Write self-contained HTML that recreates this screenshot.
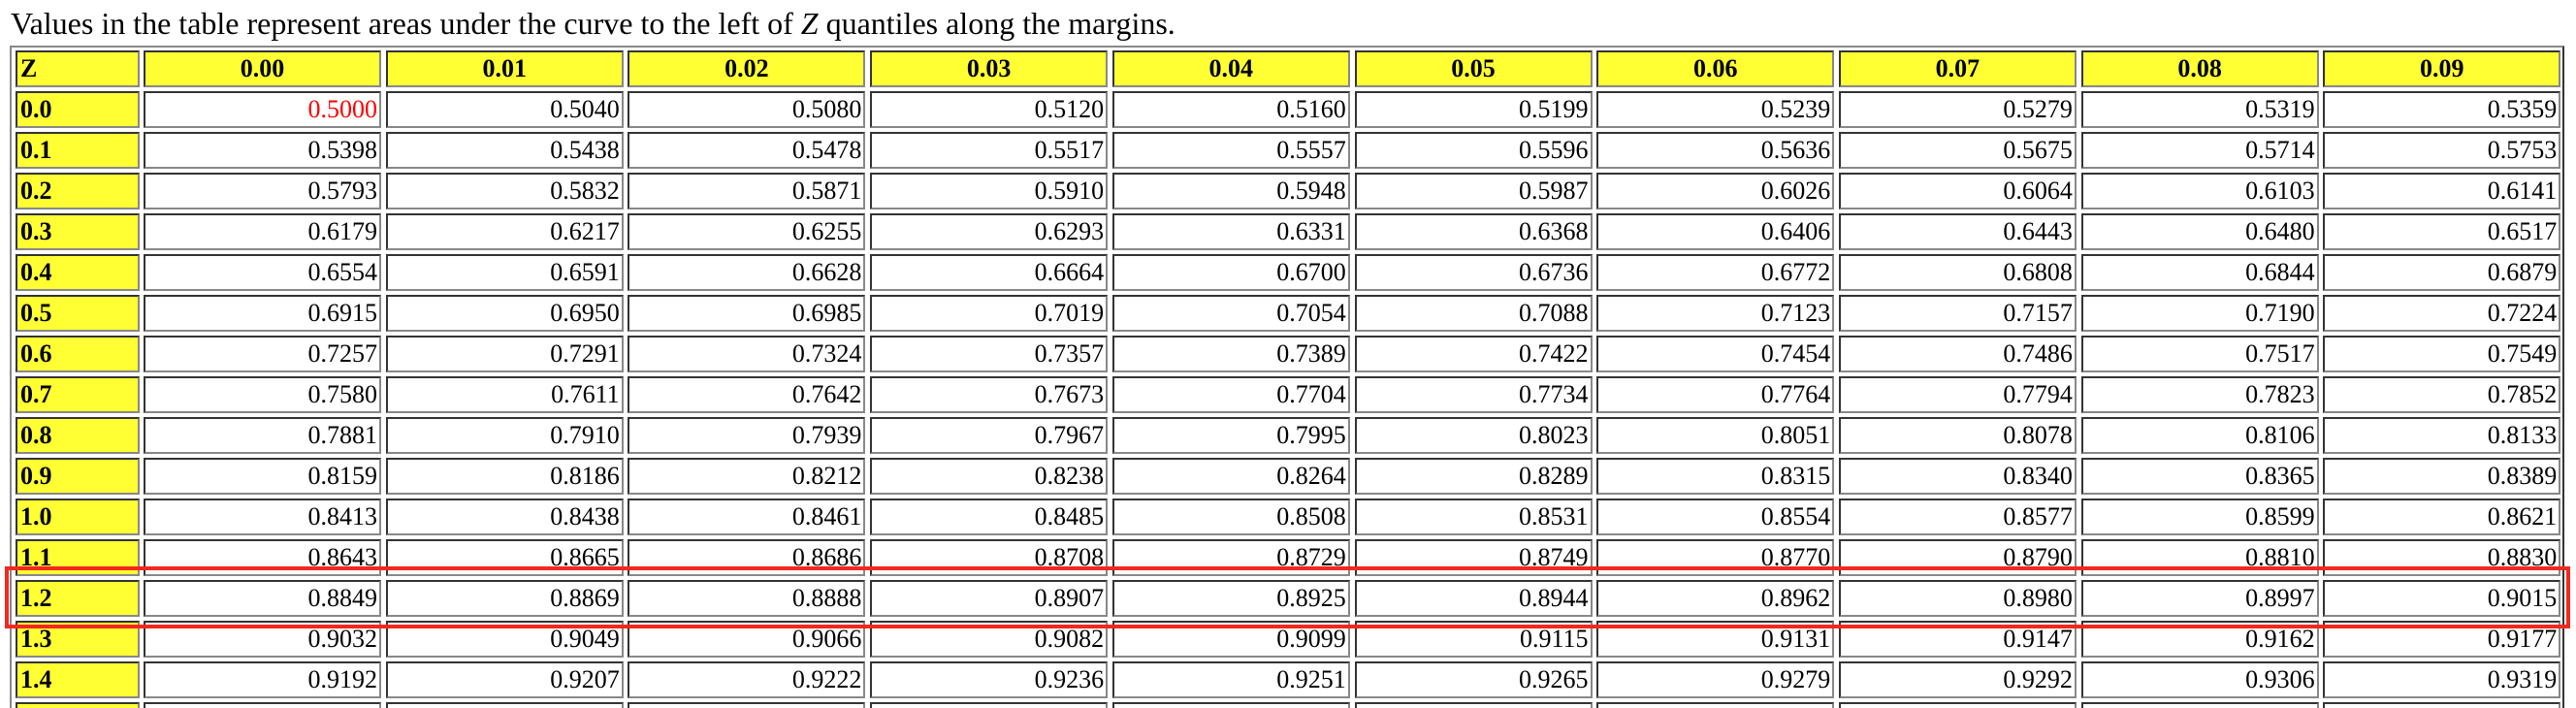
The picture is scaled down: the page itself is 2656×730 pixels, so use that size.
<!DOCTYPE html>
<html><head><meta charset="utf-8">
<style>
html,body{margin:0;padding:0;background:#fff;width:2656px;height:730px;overflow:hidden;position:relative;font-family:"Liberation Serif",serif;}
#title{position:absolute;left:11px;top:8px;font-size:32px;line-height:32px;color:#000;white-space:nowrap;}
#tbl{position:absolute;left:10px;top:47px;width:2634px;height:700px;border-left:2px solid #888;border-top:2px solid #888;border-right:2px solid #333;box-sizing:border-box;}
.c{position:absolute;box-sizing:border-box;height:38px;border:2px solid;border-color:#333 #888 #888 #333;font-size:26px;line-height:34px;white-space:nowrap;overflow:hidden;}
.y{background:#ffff33;font-weight:bold;}
.h{text-align:center;}
.z{text-align:left;padding-left:3px;}
.d{background:#fff;text-align:right;padding-right:2px;}
#box{position:absolute;left:5px;top:584px;width:2645px;height:64px;box-sizing:border-box;border:4px solid #f3281e;}
</style></head>
<body>
<div id="title">Values in the table represent areas under the curve to the left of <i>Z</i> quantiles along the margins.</div>
<div id="tbl"></div>
<div id="box"></div>
<script>
const colHeaders=["0.00","0.01","0.02","0.03","0.04","0.05","0.06","0.07","0.08","0.09"];
const rowHeaders=["0.0","0.1","0.2","0.3","0.4","0.5","0.6","0.7","0.8","0.9","1.0","1.1","1.2","1.3","1.4","1.5"];
const values=[
["0.5000","0.5040","0.5080","0.5120","0.5160","0.5199","0.5239","0.5279","0.5319","0.5359"],
["0.5398","0.5438","0.5478","0.5517","0.5557","0.5596","0.5636","0.5675","0.5714","0.5753"],
["0.5793","0.5832","0.5871","0.5910","0.5948","0.5987","0.6026","0.6064","0.6103","0.6141"],
["0.6179","0.6217","0.6255","0.6293","0.6331","0.6368","0.6406","0.6443","0.6480","0.6517"],
["0.6554","0.6591","0.6628","0.6664","0.6700","0.6736","0.6772","0.6808","0.6844","0.6879"],
["0.6915","0.6950","0.6985","0.7019","0.7054","0.7088","0.7123","0.7157","0.7190","0.7224"],
["0.7257","0.7291","0.7324","0.7357","0.7389","0.7422","0.7454","0.7486","0.7517","0.7549"],
["0.7580","0.7611","0.7642","0.7673","0.7704","0.7734","0.7764","0.7794","0.7823","0.7852"],
["0.7881","0.7910","0.7939","0.7967","0.7995","0.8023","0.8051","0.8078","0.8106","0.8133"],
["0.8159","0.8186","0.8212","0.8238","0.8264","0.8289","0.8315","0.8340","0.8365","0.8389"],
["0.8413","0.8438","0.8461","0.8485","0.8508","0.8531","0.8554","0.8577","0.8599","0.8621"],
["0.8643","0.8665","0.8686","0.8708","0.8729","0.8749","0.8770","0.8790","0.8810","0.8830"],
["0.8849","0.8869","0.8888","0.8907","0.8925","0.8944","0.8962","0.8980","0.8997","0.9015"],
["0.9032","0.9049","0.9066","0.9082","0.9099","0.9115","0.9131","0.9147","0.9162","0.9177"],
["0.9192","0.9207","0.9222","0.9236","0.9251","0.9265","0.9279","0.9292","0.9306","0.9319"],
["0.9332","0.9345","0.9357","0.9370","0.9382","0.9394","0.9406","0.9418","0.9429","0.9441"]
];
const tbl=document.getElementById('tbl');
const OX=12, OY=49;
function colX(i){return 148+249.7*i-OX;}
function rowY(r){return 52+42*r-OY;}
function cell(cls,x,y,w,txt){
  const d=document.createElement('div');
  d.className='c '+cls;
  d.style.left=x+'px';d.style.top=y+'px';d.style.width=w+'px';
  d.textContent=txt;
  tbl.appendChild(d);
  return d;
}
let e=cell('y z',16-OX,rowY(0),128,'Z');


colHeaders.forEach((h,i)=>{
  const c=cell('y h',colX(i),rowY(0),245,h);
  
  
});
rowHeaders.forEach((rh,r)=>{
  const c=cell('y z',16-OX,rowY(r+1),128,rh);
  
  
  values[r].forEach((v,i)=>{
    const d=cell('d',colX(i),rowY(r+1),245,v);
    if(r===0&&i===0)d.style.color='#ff0000';
    
    
  });
});
</script>
</body></html>
